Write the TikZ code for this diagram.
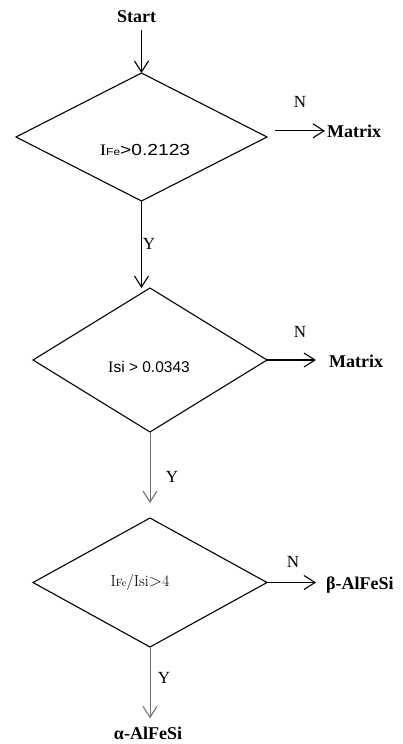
\documentclass[tikz,border=0pt]{standalone}
\usepackage{fontspec}
\usepackage{graphicx}
\usetikzlibrary{shapes.geometric,arrows.meta}
\newfontfamily\tnr{Liberation Serif}
\newfontfamily\ars{Liberation Sans}

\tikzset{
  decision/.style={shape=diamond, draw, line width=1.1pt, inner sep=0pt, outer sep=0pt},
  lbl/.style={inner sep=0pt, font=\tnr\fontsize{18}{20}\selectfont\bfseries},
  yn/.style={inner sep=0pt, font=\tnr\fontsize{17}{19}\selectfont},
  cond/.style={inner sep=0pt},
  arr/.style={line width=1.1pt, -{Straight Barb[length=11pt,width=14pt,line width=1.1pt]}},
  arrlight/.style={arr, draw=black!55, line width=1pt},
}

\begin{document}
\begin{tikzpicture}[x=1pt,y=-1pt]
  \fill[white] (0,0) rectangle (403,744);
  \useasboundingbox (0,0) rectangle (403,744);

  % start label
  \node[lbl, anchor=base] (start) at (136.5,22) {Start};

  % decision diamonds
  \node[decision, minimum width=251pt, minimum height=128pt] (d1) at (141.5,137) {};
  \node[decision, minimum width=234pt, minimum height=144pt] (d2) at (150,360) {};
  \node[decision, minimum width=234pt, minimum height=129pt] (d3) at (150,582.5) {};

  % conditions
  \node[cond] (c1) at (145,150) {\scalebox{1.2}[1]{{\tnr\fontsize{16}{18}\selectfont I}{\ars\fontsize{10}{12}\selectfont Fe}{\ars\fontsize{16}{18}\selectfont >0.2123}}};
  \node[cond] (c2) at (149,367) {{\tnr\fontsize{16}{18}\selectfont I}{\ars\fontsize{15.5}{18}\selectfont si > 0.0343}};
  \node[cond] (c3) at (140,582) {\fontsize{16}{18}\selectfont I{\fontsize{10.5}{12}\selectfont Fe}/Isi$>$4};

  % outcomes
  \node[lbl, anchor=base west] (m1) at (327,137) {Matrix};
  \node[lbl, anchor=base west] (m2) at (329,367) {Matrix};
  \node[lbl, anchor=base west] (beta) at (326,589) {β-AlFeSi};
  \node[lbl, anchor=base] (alpha) at (148,739) {α-AlFeSi};

  % branch labels
  \node[yn] (n1) at (300,102) {N};
  \node[yn] (n2) at (300,332) {N};
  \node[yn] (n3) at (293,562) {N};
  \node[yn] (y1) at (149,244) {Y};
  \node[yn] (y2) at (172,477) {Y};
  \node[yn] (y3) at (164,678) {Y};

  % connectors
  \draw[arr, shorten <=8pt] (start.south -| d1.north) -- (d1.north);
  \draw[arr] (d1.south) -- (d1.south |- d2.north);
  \draw[arr] ([xshift=8pt]d1.east |- m1.west) -- ([xshift=-2pt]m1.west);
  \draw[arr] (d2.east) -- ([xshift=-13pt]m2.west |- d2.east);
  \draw[arrlight] (d2.south) -- ([yshift=15pt]d3.north);
  \draw[arr] (d3.east) -- ([xshift=-10pt]beta.west |- d3.east);
  \draw[arrlight] (d3.south) -- ([yshift=8pt]d3.south |- alpha.north);
\end{tikzpicture}
\end{document}
